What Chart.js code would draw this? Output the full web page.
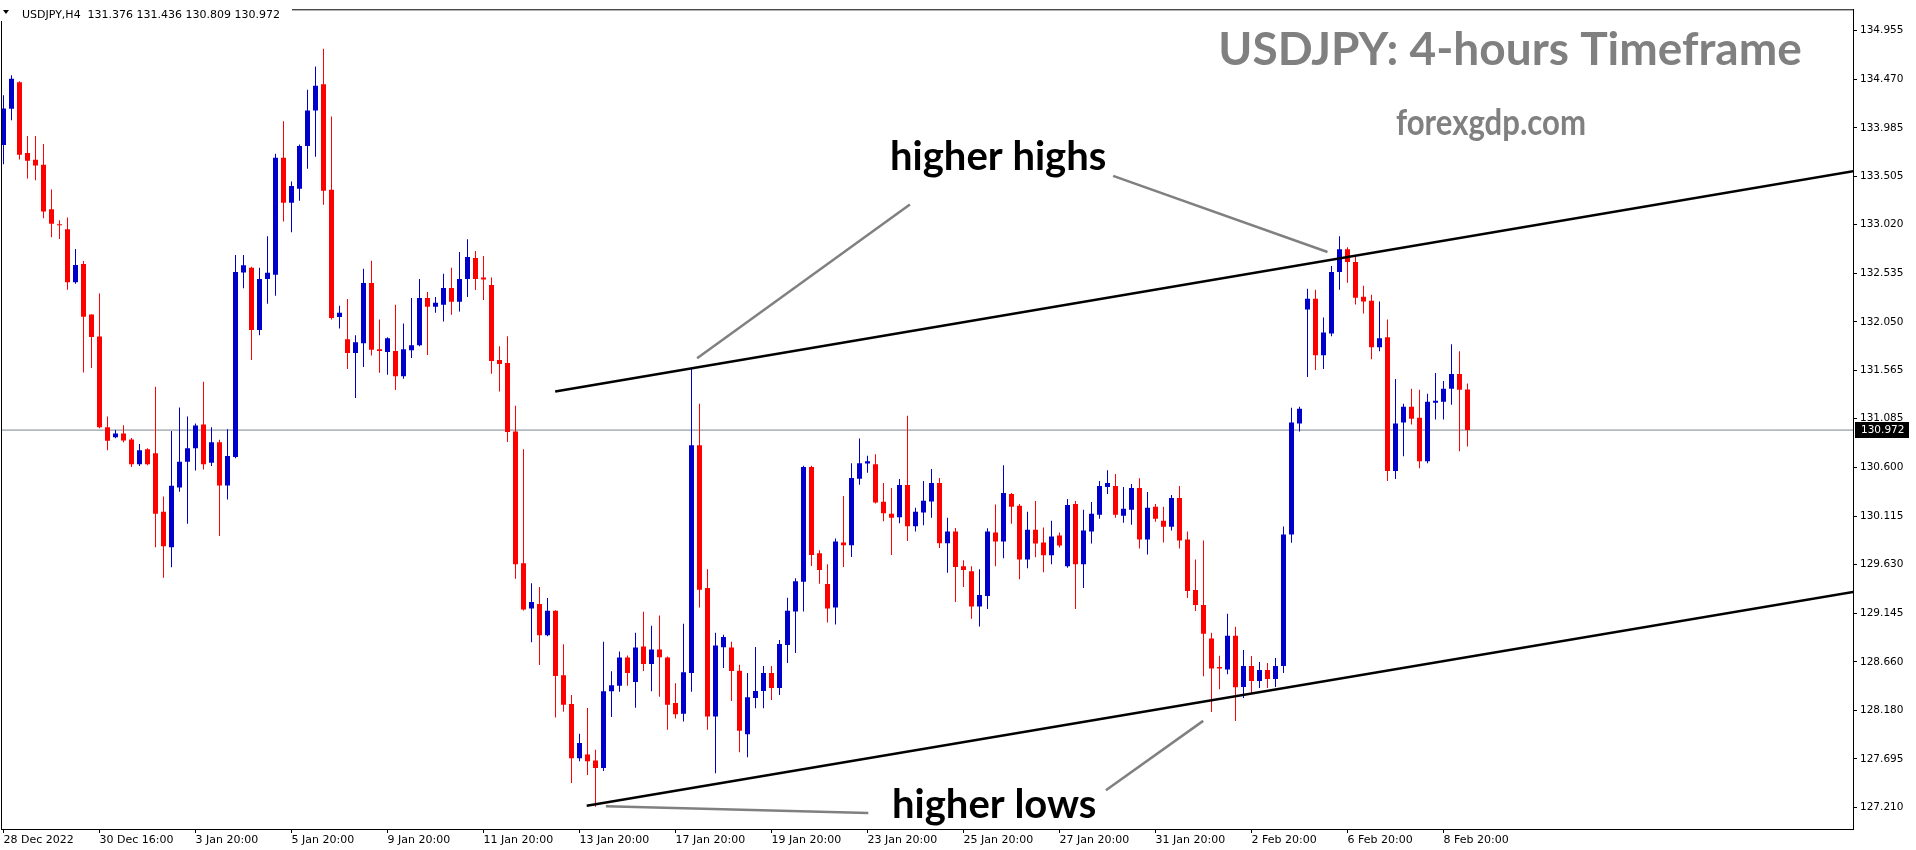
<!DOCTYPE html>
<html>
<head>
<meta charset="utf-8">
<script src="https://cdn.jsdelivr.net/npm/chart.js@4.4.1/dist/chart.umd.min.js"></script>
<style>
  html, body { margin: 0; background: #fff; overflow: hidden; }
  canvas { display: block; }
</style>
</head>
<body>
<canvas id="chart" width="1916" height="850"></canvas>
<script>
// USDJPY H4 candles, one entry per bar (bar 0 = 28 Dec 2022)
const OPEN = [
  133.815, 134.175, 134.439, 133.734, 133.667, 133.617, 133.173, 133.024, 132.975, 132.446, 132.629, 132.125,
  131.906, 131.000, 130.900, 130.939, 130.879, 130.632, 130.780, 130.741, 130.159, 129.803, 130.400, 130.657,
  130.791, 131.027, 130.646, 130.851, 130.420, 130.703, 132.544, 132.590, 131.971, 132.477, 132.521, 133.686,
  133.239, 133.377, 133.805, 134.158, 134.419, 133.367, 132.099, 131.877, 131.740, 131.838, 132.438, 131.779,
  131.750, 131.760, 131.509, 131.769, 131.818, 132.290, 132.202, 132.221, 132.389, 132.251, 132.477, 132.688,
  132.492, 132.418, 131.670, 131.640, 130.958, 129.644, 129.193, 129.239, 128.926, 129.170, 128.527, 128.241,
  127.701, 127.737, 127.678, 127.602, 128.369, 128.422, 128.705, 128.461, 128.814, 128.639, 128.784, 128.705,
  128.251, 128.145, 128.550, 130.820, 129.397, 128.116, 128.807, 128.804, 128.573, 127.939, 128.300, 128.370,
  128.550, 128.400, 128.830, 129.163, 129.460, 130.603, 129.743, 129.437, 129.203, 129.852, 129.825, 130.487,
  130.640, 130.632, 130.257, 130.138, 130.102, 130.425, 130.013, 130.151, 130.260, 130.444, 129.845, 129.960,
  129.615, 129.565, 129.213, 129.317, 129.950, 129.861, 130.335, 130.217, 129.683, 129.979, 129.851, 129.723,
  129.920, 129.614, 130.236, 129.634, 129.960, 130.128, 130.404, 130.414, 130.118, 130.177, 130.394, 129.881,
  130.207, 130.068, 130.009, 130.296, 129.881, 129.377, 129.229, 128.893, 128.609, 128.586, 128.922, 128.410,
  128.620, 128.470, 128.580, 128.490, 128.620, 129.930, 131.037, 132.174, 132.282, 131.719, 131.936, 132.549,
  132.776, 132.648, 132.302, 132.262, 131.798, 131.897, 130.563, 131.047, 131.205, 131.096, 130.662, 131.245,
  131.254, 131.383, 131.531, 131.376
];
const HIGH = [
  134.309, 134.510, 134.450, 133.903, 133.903, 133.825, 133.370, 133.063, 133.091, 132.777, 132.657, 132.125,
  132.333, 131.108, 130.974, 131.020, 130.893, 130.833, 130.791, 131.405, 130.311, 130.964, 131.197, 131.108,
  131.038, 131.454, 131.000, 130.876, 130.981, 132.717, 132.717, 132.600, 132.590, 132.905, 133.726, 134.050,
  133.450, 133.819, 134.365, 134.596, 134.773, 134.099, 132.212, 132.280, 131.917, 132.580, 132.659, 132.074,
  131.897, 132.221, 132.034, 132.290, 132.477, 132.349, 132.300, 132.531, 132.590, 132.748, 132.875, 132.757,
  132.708, 132.492, 131.808, 131.907, 131.215, 130.780, 129.446, 129.407, 129.298, 129.175, 128.837, 128.330,
  127.944, 128.201, 127.786, 128.863, 128.567, 128.764, 128.725, 128.952, 129.160, 129.021, 129.124, 128.715,
  128.448, 129.041, 131.581, 131.235, 129.585, 128.952, 128.932, 128.863, 128.633, 128.550, 128.810, 128.620,
  128.620, 128.880, 129.300, 129.496, 130.616, 130.616, 129.773, 129.634, 129.891, 130.316, 130.642, 130.889,
  130.715, 130.731, 130.444, 130.395, 130.484, 131.116, 130.197, 130.464, 130.583, 130.494, 130.099, 129.997,
  129.674, 129.614, 129.585, 129.993, 130.230, 130.622, 130.345, 130.236, 130.157, 130.266, 130.000, 130.068,
  129.950, 130.286, 130.266, 130.177, 130.256, 130.464, 130.572, 130.533, 130.404, 130.434, 130.493, 130.355,
  130.236, 130.207, 130.325, 130.414, 129.960, 129.683, 129.871, 128.952, 128.721, 129.140, 129.011, 128.780,
  128.720, 128.660, 128.650, 128.700, 130.010, 131.195, 131.205, 132.381, 132.371, 132.094, 132.608, 132.905,
  132.796, 132.707, 132.411, 132.322, 132.253, 132.075, 131.482, 131.235, 131.383, 131.373, 131.334, 131.541,
  131.462, 131.827, 131.758, 131.436
];
const LOW = [
  133.621, 134.062, 133.670, 133.480, 133.462, 133.084, 132.894, 132.876, 132.372, 132.432, 131.546, 131.592,
  130.990, 130.770, 130.890, 130.851, 130.604, 130.614, 130.621, 129.803, 129.499, 129.605, 130.357, 130.039,
  130.569, 130.579, 130.614, 129.916, 130.279, 130.692, 132.386, 131.671, 131.917, 132.231, 132.310, 133.052,
  132.944, 133.259, 133.578, 133.696, 133.219, 132.074, 131.985, 131.582, 131.292, 131.602, 131.715, 131.543,
  131.523, 131.371, 131.484, 131.690, 131.808, 131.720, 132.143, 132.054, 132.123, 132.153, 132.300, 132.369,
  132.270, 131.533, 131.357, 130.853, 129.489, 129.173, 128.857, 128.630, 128.916, 128.106, 128.165, 127.454,
  127.671, 127.533, 127.216, 127.572, 128.112, 128.363, 128.422, 128.205, 128.570, 128.369, 128.313, 127.984,
  128.096, 128.066, 128.363, 129.203, 127.984, 127.552, 128.600, 128.270, 127.760, 127.710, 128.200, 128.200,
  128.280, 128.330, 128.650, 128.750, 129.163, 129.618, 129.440, 129.054, 129.035, 129.608, 129.707, 130.428,
  130.547, 130.240, 130.062, 129.727, 130.043, 129.865, 129.960, 130.023, 130.099, 129.796, 129.549, 129.259,
  129.407, 129.091, 129.015, 129.189, 129.614, 129.693, 130.039, 129.485, 129.594, 129.703, 129.555, 129.634,
  129.802, 129.600, 129.189, 129.397, 129.841, 130.088, 130.335, 130.098, 130.049, 130.029, 129.792, 129.732,
  130.059, 129.851, 129.970, 129.792, 129.298, 129.169, 128.517, 128.161, 128.389, 128.537, 128.072, 128.300,
  128.350, 128.400, 128.400, 128.410, 128.550, 129.850, 130.958, 131.502, 131.571, 131.581, 131.907, 132.371,
  132.440, 132.223, 132.134, 131.679, 131.758, 130.464, 130.484, 130.711, 131.027, 130.592, 130.642, 131.077,
  131.077, 131.225, 130.761, 130.809
];
const CLOSE = [
  134.178, 134.475, 133.716, 133.656, 133.610, 133.151, 133.028, 133.014, 132.446, 132.619, 132.103, 131.899,
  131.000, 130.865, 130.939, 130.869, 130.632, 130.770, 130.632, 130.138, 129.813, 130.417, 130.657, 130.791,
  131.017, 130.632, 130.851, 130.420, 130.713, 132.548, 132.615, 131.971, 132.477, 132.541, 133.686, 133.239,
  133.406, 133.805, 134.158, 134.404, 133.357, 132.089, 132.143, 131.740, 131.848, 132.438, 131.774, 131.760,
  131.887, 131.509, 131.779, 131.818, 132.290, 132.202, 132.241, 132.389, 132.251, 132.477, 132.698, 132.477,
  132.472, 131.661, 131.630, 130.952, 129.634, 129.183, 129.259, 128.926, 129.170, 128.521, 128.234, 127.701,
  127.852, 127.671, 127.602, 128.369, 128.428, 128.705, 128.550, 128.804, 128.639, 128.784, 128.708, 128.234,
  128.139, 128.557, 130.820, 129.380, 128.116, 128.824, 128.910, 128.570, 127.974, 128.309, 128.370, 128.550,
  128.400, 128.840, 129.170, 129.466, 130.603, 129.727, 129.578, 129.193, 129.862, 129.825, 130.494, 130.642,
  130.662, 130.250, 130.142, 130.099, 130.425, 130.013, 130.158, 130.267, 130.444, 129.845, 129.960, 129.608,
  129.578, 129.213, 129.328, 129.960, 129.861, 130.345, 130.207, 129.683, 129.979, 129.841, 129.723, 129.910,
  129.821, 130.226, 129.634, 129.970, 130.138, 130.414, 130.444, 130.128, 130.187, 130.394, 129.881, 130.197,
  130.088, 130.009, 130.296, 129.871, 129.367, 129.229, 128.942, 128.596, 128.596, 128.922, 128.408, 128.620,
  128.470, 128.580, 128.490, 128.620, 129.930, 131.047, 131.185, 132.282, 131.719, 131.946, 132.549, 132.776,
  132.648, 132.292, 132.253, 131.798, 131.887, 130.563, 131.037, 131.205, 131.086, 130.662, 131.255, 131.264,
  131.383, 131.531, 131.373, 130.972
];

// time axis: one label every 12 bars
const TICK_EVERY = 12;
const TICK_LABELS = ['28 Dec 2022', '30 Dec 16:00', '3 Jan 20:00', '5 Jan 20:00', '9 Jan 20:00', '11 Jan 20:00',
  '13 Jan 20:00', '17 Jan 20:00', '19 Jan 20:00', '23 Jan 20:00', '25 Jan 20:00', '27 Jan 20:00',
  '31 Jan 20:00', '2 Feb 20:00', '6 Feb 20:00', '8 Feb 20:00'];
const PRICE_TICKS = [134.955, 134.470, 133.985, 133.505, 133.020, 132.535, 132.050, 131.565, 131.085,
  130.600, 130.115, 129.630, 129.145, 128.660, 128.180, 127.695, 127.210];

// channel lines and callout pointers, as [bar index, price]
const UPPER_TREND = [[68.96, 131.356], [231.2, 133.552]];
const LOWER_TREND = [[72.9, 127.226], [231.2, 129.357]];
const HH_LEFT = [[86.7, 131.689], [113.3, 133.221]];
const HH_RIGHT = [[138.7, 133.507], [165.5, 132.747]];
const HL_LEFT = [[75.3, 127.223], [108.1, 127.154]];
const HL_RIGHT = [[137.8, 127.381], [149.96, 128.073]];

const BULL = '#0000cc', BEAR = '#ff0000';
const X_MIN = -0.3125, X_MAX = 231.1875;
const LAST = CLOSE.length - 1;

const colors = CLOSE.map((c, i) => c >= OPEN[i] ? BULL : BEAR);
const pts = arr => arr.map(p => ({ x: p[0], y: p[1] }));
const segment = (data, color, width, order) => ({
  type: 'line', data: pts(data), borderColor: color, borderWidth: width,
  pointRadius: 0, fill: false, tension: 0, order,
});

const decor = {
  id: 'decor',
  afterDatasetsDraw(chart) {
    const ctx = chart.ctx;
    ctx.save();
    ctx.textBaseline = 'alphabetic';
    ctx.fillStyle = '#808080';
    ctx.textAlign = 'center';
    ctx.font = 'bold 46px Lato';
    ctx.fillText('USDJPY: 4-hours Timeframe', 1510, 65);
    ctx.font = 'bold 36px Lato';
    ctx.fillText('forexgdp.com', 1491, 135, 190);
    ctx.fillStyle = '#000';
    ctx.textAlign = 'left';
    ctx.font = 'bold 40px Lato';
    ctx.fillText('higher highs', 890, 170);
    ctx.fillText('higher lows', 892, 818);
    ctx.restore();
  },
  afterDraw(chart) {
    const ctx = chart.ctx, a = chart.chartArea, y = chart.scales.y;
    ctx.save();
    ctx.strokeStyle = '#000';
    ctx.lineWidth = 1;
    ctx.strokeRect(a.left + 0.5, a.top + 0.5, a.right - a.left, a.bottom - a.top);

    // symbol header
    ctx.fillStyle = '#fff';
    ctx.fillRect(0, 0, 292, 21);
    ctx.fillStyle = '#000';
    ctx.beginPath();
    ctx.moveTo(3, 10); ctx.lineTo(9, 10); ctx.lineTo(6, 14); ctx.closePath();
    ctx.fill();
    ctx.font = '11px "DejaVu Sans"';
    ctx.textBaseline = 'alphabetic';
    ctx.fillText(`USDJPY,H4  ${OPEN[LAST].toFixed(3)} ${HIGH[LAST].toFixed(3)} ${LOW[LAST].toFixed(3)} ${CLOSE[LAST].toFixed(3)}`, 22, 18);

    // last price tag
    const py = Math.round(y.getPixelForValue(CLOSE[LAST]));
    ctx.fillRect(1855, py - 8, 54, 16);
    ctx.fillStyle = '#fff';
    ctx.font = '10.5px "DejaVu Sans"';
    ctx.textBaseline = 'middle';
    ctx.fillText(CLOSE[LAST].toFixed(3), 1861, py);
    ctx.restore();
  },
};

new Chart(document.getElementById('chart'), {
  type: 'bar',
  data: {
    datasets: [
      segment([[X_MIN, CLOSE[LAST]], [X_MAX, CLOSE[LAST]]], '#7a8591', 1, 10),
      { data: OPEN.map((o, i) => ({ x: i, y: [LOW[i], HIGH[i]] })), backgroundColor: colors,
        barThickness: 1, grouped: false, inflateAmount: 0, borderWidth: 0, order: 6 },
      { data: OPEN.map((o, i) => ({ x: i, y: [o, CLOSE[i]] })), backgroundColor: colors,
        barThickness: 5, minBarLength: 1, grouped: false, inflateAmount: 0, borderWidth: 0, order: 5 },
      segment(UPPER_TREND, '#000', 2.5, 2),
      segment(LOWER_TREND, '#000', 2.5, 2),
      segment(HH_LEFT, '#808080', 2.5, 1),
      segment(HH_RIGHT, '#808080', 2.5, 1),
      segment(HL_LEFT, '#808080', 2.5, 1),
      segment(HL_RIGHT, '#808080', 2.5, 1),
    ],
  },
  options: {
    responsive: false,
    devicePixelRatio: 1,
    animation: false,
    events: [],
    layout: { padding: { left: 1, top: 2, right: 0, bottom: 0 } },
    plugins: { legend: { display: false }, tooltip: { enabled: false } },
    scales: {
      x: {
        type: 'linear', min: X_MIN, max: X_MAX, offset: false,
        grid: { offset: false, drawOnChartArea: false, tickLength: 4, color: '#000' },
        border: { display: true, color: '#000' },
        afterBuildTicks: s => { s.ticks = TICK_LABELS.map((_, k) => ({ value: k * TICK_EVERY })); },
        afterFit: s => { s.height = 21; },
        ticks: {
          autoSkip: false, maxRotation: 0, minRotation: 0, align: 'start', padding: 1,
          color: '#000', font: { family: 'DejaVu Sans', size: 11 },
          callback: v => TICK_LABELS[Math.round(v / TICK_EVERY)],
        },
      },
      y: {
        type: 'linear', position: 'right', min: 126.995, max: 135.167,
        grid: { drawOnChartArea: false, tickLength: 4, color: '#000' },
        border: { display: true, color: '#000' },
        afterBuildTicks: s => { s.ticks = PRICE_TICKS.map(v => ({ value: v })); },
        afterFit: s => { s.width = 63; },
        ticks: {
          autoSkip: false, padding: 3, color: '#000',
          font: { family: 'DejaVu Sans', size: 10.5 },
          callback: v => v.toFixed(3),
        },
      },
    },
  },
  plugins: [decor],
});
</script>
</body>
</html>
